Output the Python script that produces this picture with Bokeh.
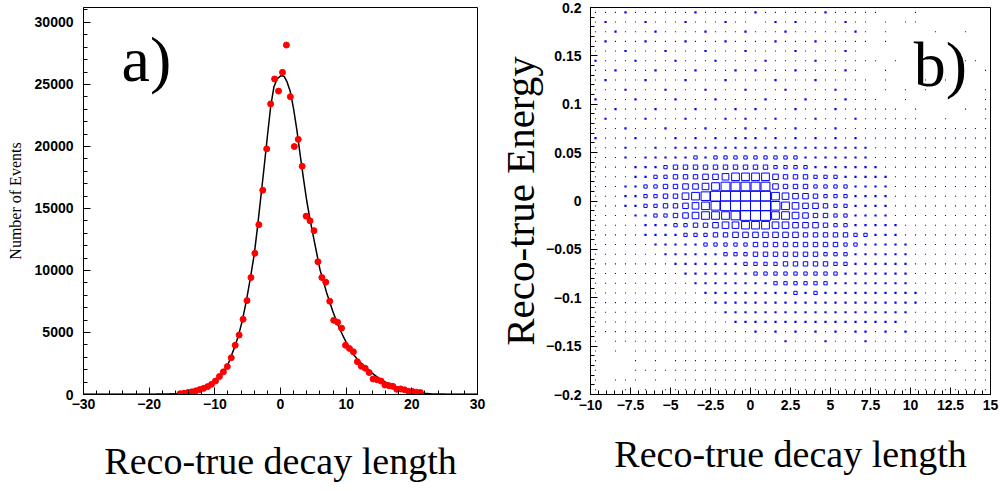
from bokeh.plotting import figure
from bokeh.layouts import row
from bokeh.models import ColumnDataSource, FixedTicker, Range1d, Label
from bokeh.embed import file_html
from bokeh.resources import INLINE

# ---------------- Panel a) : decay-length residual histogram ----------------
a_xlim = (-30.0, 30.0)
a_ylim = (0.0, 31200.0)
bin_half = 0.3

decay_x = [-15.3, -14.7, -14.1, -13.5, -12.9, -12.3, -11.7, -11.1, -10.5, -9.9,
           -9.3, -8.7, -8.1, -7.5, -6.9, -6.3, -5.7, -5.1, -4.5, -3.9,
           -3.3, -2.7, -2.1, -1.5, -0.9, -0.3, 0.3, 0.9, 1.5, 2.1,
           2.7, 3.3, 3.9, 4.5, 5.1, 5.7, 6.3, 6.9, 7.5, 8.1,
           8.7, 9.3, 9.9, 10.5, 11.1, 11.7, 12.3, 12.9, 13.5, 14.1,
           14.7, 15.3, 15.9, 16.5, 17.1, 17.7, 18.3, 18.9, 19.5, 20.1,
           20.7, 21.3]
decay_counts = [60, 103, 159, 214, 294, 397, 500, 635, 818, 1088,
                1453, 1827, 2248, 2962, 3971, 4790, 6061, 7569, 9430, 11380,
                13690, 16470, 19800, 23430, 25440, 24460, 25970, 28170, 24010, 19990,
                20570, 18400, 14380, 14000, 13210, 10700, 9430, 9055, 7520, 5980,
                5820, 5350, 3970, 3710, 3440, 2650, 2280, 2120, 1770, 1250,
                1190, 1088, 770, 715, 660, 420, 450, 373, 262, 238,
                183, 159]

fit_x = [-30, -22, -19, -17, -16, -15, -14, -13, -12, -11, -10, -9, -8, -7, -6.4,
         -5.8, -5.2, -4.6, -4.0, -3.5, -3.0, -2.5, -2.0, -1.5, -1.0, -0.5, 0.0, 0.3,
         0.6, 1.0, 1.5, 2.0, 2.5, 3.0, 3.5, 4.0, 4.5, 5.0, 6.0, 7.0, 7.5, 8.0, 9.0,
         10.0, 11.0, 12.0, 13.0, 14.0, 15.0, 16.0, 17.0, 18.0, 19.0, 20.0, 21.0,
         22.0, 23.0, 25.0, 27.0, 30.0]
fit_y = [0, 3, 12, 35, 60, 95, 150, 240, 390, 620, 1000, 1560, 2420, 3800, 4750,
         6000, 7550, 9350, 11300, 13500, 15900, 18300, 20800, 23200, 24800, 25450, 25680, 25700,
         25600, 25200, 24400, 23000, 21300, 19300, 17400, 15600, 14100, 12750, 10100, 8250, 7450, 6650, 5300,
         4200, 3300, 2650, 2150, 1700, 1300, 1000, 760, 550, 380, 260, 165,
         95, 50, 12, 3, 0]

a_xticks = [-30, -20, -10, 0, 10, 20, 30]
a_xtick_labels = ["\u221230", "\u221220", "\u221210", "0", "10", "20", "30"]
a_xminor = list(range(-30, 31, 2))
a_yticks = [0, 5000, 10000, 15000, 20000, 25000, 30000]
a_ytick_labels = ["0", "5000", "10000", "15000", "20000", "25000", "30000"]
a_yminor = list(range(0, 31001, 1000))

# ---------------- Panel b) : 2D box histogram ----------------
b_xlim = (-10.0, 15.0)
b_ylim = (-0.2, 0.2)
b_nx = 40
b_ny = 40
# bin content levels (0-9), one string per row, top row (E=+0.195) first
b_rows = [
    "111211111121111" + "1211111121111" + "100010000000",
    "121112111211121" + "1012121111211" + "010110000000",
    "112111211112111" + "2111211111121" + "010000100100",
    "121112111211121" + "1112111211111" + "010000000000",
    "111211121112111" + "2111121111210" + "000000000000",
    "211121112111211" + "1121111211111" + "101000000110",
    "112111211121112" + "1211121111210" + "010000000001",
    "121112111211121" + "1112111211111" + "010001010000",
    "111211121112111" + "2111211112111" + "010101001001",
    "211121112111211" + "1121112111211" + "100100000001",
    "112111211121112" + "1211121112111" + "111010000101",
    "121112111211121" + "2112111211121" + "111110010001",
    "111211121112111" + "2121121112111" + "111111111111",
    "211121112121212" + "2212121212121" + "111111111111",
    "111211212222222" + "2222222222222" + "111111111111",
    "111212222232333" + "3333332222222" + "111111111111",
    "111122234444444" + "4443333222222" + "211111111111",
    "111122334445567" + "7775444333222" + "221111111111",
    "111223344556788" + "8885444333322" + "221111111111",
    "111223344678999" + "9997655433322" + "221111111111",
    "111223344567899" + "9998765543322" + "221111111111",
    "111122334567778" + "9997765443322" + "221111111111",
    "111112223344566" + "7776655543322" + "222111111111",
    "111112222333445" + "5555554444433" + "222111111111",
    "111111222223333" + "3444444444332" + "222211111111",
    "111111122222233" + "3444444433322" + "222211111111",
    "111111112222222" + "3333444443322" + "222211111111",
    "111111111222222" + "2333333333222" + "222211111111",
    "111111111122222" + "2223333332222" + "222211111111",
    "111111111112222" + "2222232322222" + "222221111111",
    "111111111111222" + "2222222222222" + "222221111111",
    "111111111111122" + "2222222222222" + "222211111111",
    "111111111111112" + "2222222222222" + "222111111111",
    "111111111111111" + "1212121212122" + "121211111111",
    "101111111111111" + "1111211121112" + "111111111111",
    "101011111111111" + "1111111111111" + "111111110111",
    "100010101111111" + "1111111111111" + "111111111011",
    "100011111111111" + "1111111111111" + "111111111111",
    "101110101111111" + "1111111111111" + "111111110111",
    "100101011111111" + "1111111111111" + "111111111111",
]
b_max_level = 9

b_xticks = [-10, -7.5, -5, -2.5, 0, 2.5, 5, 7.5, 10, 12.5, 15]
b_xtick_labels = ["\u221210", "\u22127.5", "\u22125", "\u22122.5", "0", "2.5", "5", "7.5", "10", "12.5", "15"]
b_xminor = [-10 + 0.5 * k for k in range(51)]
b_yticks = [-0.2, -0.15, -0.1, -0.05, 0, 0.05, 0.1, 0.15, 0.2]
b_ytick_labels = ["\u22120.2", "\u22120.15", "\u22120.1", "\u22120.05", "0", "0.05", "0.1", "0.15", "0.2"]
b_yminor = [round(-0.2 + 0.01 * k, 3) for k in range(41)]

TICK_FONT = "Liberation Sans"
SERIF = "Liberation Serif"


def style_axes(p, xticks, xlabels, xminor, yticks, ylabels, yminor):
    p.xgrid.grid_line_color = None
    p.ygrid.grid_line_color = None
    p.outline_line_color = "black"
    p.outline_line_width = 1
    p.outline_line_alpha = 1
    p.xaxis.ticker = FixedTicker(ticks=xticks, minor_ticks=xminor)
    p.yaxis.ticker = FixedTicker(ticks=yticks, minor_ticks=yminor)
    p.xaxis.major_label_overrides = {t: l for t, l in zip(xticks, xlabels)}
    p.yaxis.major_label_overrides = {t: l for t, l in zip(yticks, ylabels)}
    for ax in (p.xaxis[0], p.yaxis[0]):
        ax.axis_line_color = "black"
        ax.axis_line_width = 1
        ax.major_tick_line_color = "black"
        ax.minor_tick_line_color = "black"
        ax.major_tick_in = 7
        ax.major_tick_out = 0
        ax.minor_tick_in = 4
        ax.minor_tick_out = 0
        ax.major_label_text_font = TICK_FONT
        ax.major_label_text_font_size = "14px"
        ax.major_label_text_font_style = "bold"
        ax.major_label_text_color = "black"
        ax.axis_label_text_font = SERIF
        ax.axis_label_text_font_style = "normal"
        ax.axis_label_text_color = "black"


# ---------------- figure a ----------------
pa = figure(width=490, height=491, x_range=Range1d(*a_xlim), y_range=Range1d(*a_ylim),
            output_backend="svg", toolbar_location=None,
            min_border_left=83, min_border_right=13, min_border_top=1, min_border_bottom=97)
style_axes(pa, a_xticks, a_xtick_labels, a_xminor, a_yticks, a_ytick_labels, a_yminor)
pa.xaxis.axis_label = "Reco-true decay length"
pa.xaxis.axis_label_text_font_size = "38px"
pa.xaxis.axis_label_standoff = 28
pa.xaxis.major_label_standoff = 4
pa.yaxis.axis_label = "Number of Events"
pa.yaxis.axis_label_text_font_size = "16px"
pa.yaxis.axis_label_standoff = 8
pa.yaxis.major_label_standoff = 10

# empty bins drawn along zero by the histogram outline
empty_x0 = [a_xlim[0], decay_x[-1] + bin_half]
empty_x1 = [decay_x[0] - bin_half, a_xlim[1]]
pa.segment(x0=empty_x0, x1=empty_x1, y0=[0, 0], y1=[0, 0], line_color="#1010a0", line_width=2)

pa.line(fit_x, fit_y, line_color="black", line_width=1.5)
pa.scatter(decay_x, decay_counts, size=6, color="#ff0000", marker="circle")

pa.add_layout(Label(x=-24.2, y=27000, text="a)", text_font=SERIF, text_font_size="64px",
                    text_color="black", text_baseline="alphabetic"))

# ---------------- figure b ----------------
pb = figure(width=510, height=491, x_range=Range1d(*b_xlim), y_range=Range1d(*b_ylim),
            output_backend="svg", toolbar_location=None,
            min_border_left=100, min_border_right=10, min_border_top=7, min_border_bottom=90)
style_axes(pb, b_xticks, b_xtick_labels, b_xminor, b_yticks, b_ytick_labels, b_yminor)
pb.xaxis.axis_label = "Reco-true decay length"
pb.xaxis.axis_label_text_font_size = "38px"
pb.xaxis.axis_label_standoff = 20
pb.xaxis.major_label_standoff = 5
pb.yaxis.axis_label = "Reco-true Energy"
pb.yaxis.axis_label_text_font_size = "41px"
pb.yaxis.axis_label_standoff = 0
pb.yaxis.major_label_standoff = 9

bw = (b_xlim[1] - b_xlim[0]) / b_nx
bh = (b_ylim[1] - b_ylim[0]) / b_ny
small = dict(x=[], y=[], w=[], h=[])
big = dict(x=[], y=[], w=[], h=[])
for r, line in enumerate(b_rows):
    assert len(line) == b_nx, (r, len(line))
    yc = b_ylim[1] - (r + 0.5) * bh
    for i, ch in enumerate(line):
        lev = int(ch)
        if lev == 0:
            continue
        xc = b_xlim[0] + (i + 0.5) * bw
        frac = lev / b_max_level
        tgt = small if lev <= 2 else big
        tgt["x"].append(xc)
        tgt["y"].append(yc)
        tgt["w"].append(bw * frac)
        tgt["h"].append(bh * frac)

pb.rect(x="x", y="y", width="w", height="h", source=ColumnDataSource(small),
        fill_color="#0000ff", line_color=None)
pb.rect(x="x", y="y", width="w", height="h", source=ColumnDataSource(big),
        fill_color=None, line_color="#0000ff", line_width=1)

pb.add_layout(Label(x=10.2, y=0.141, text="b)", text_font=SERIF, text_font_size="64px",
                    text_color="black", text_baseline="alphabetic"))

layout = row(pa, pb)
open("out.html", "w").write(file_html(layout, INLINE))
